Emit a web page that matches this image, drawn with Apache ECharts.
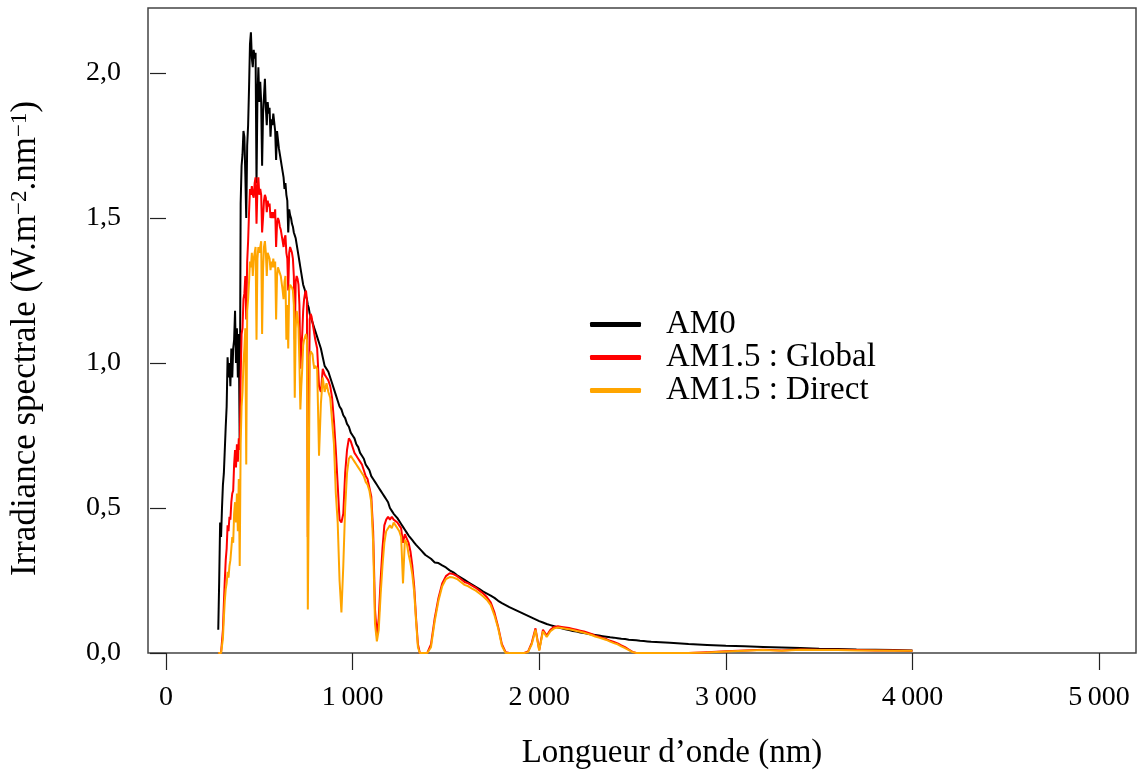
<!DOCTYPE html>
<html><head><meta charset="utf-8">
<script src="https://cdn.jsdelivr.net/npm/echarts@6/dist/echarts.min.js"></script>
<style>html,body{margin:0;padding:0;background:#fff}#c{width:1139px;height:776px}</style>
</head><body><div id="c"></div><script>
// Wavelength grid (nm)
const wavelengths = [
  280,285,290,295,300,305,310,315,320,325,
  330,335,340,345,350,355,360,365,370,375,
  380,385,390,395,400,405,410,415,420,425,
  430,435,440,445,450,455,460,465,470,475,
  480,485,490,495,500,505,510,515,520,525,
  530,535,540,545,550,555,560,565,570,575,
  580,585,590,595,600,605,610,615,620,625,
  630,635,640,645,650,655,660,665,670,675,
  680,685,690,695,700,705,710,715,720,725,
  730,735,740,745,750,755,760,765,770,775,
  780,785,790,795,800,
  810,820,830,840,850,860,870,880,890,900,
  910,920,930,940,950,960,970,980,990,1000,
  1010,1020,1030,1040,1050,1060,1070,1080,1090,1100,
  1110,1120,1130,1140,1150,1160,1170,1180,1190,1200,
  1210,1220,1230,1240,1250,1260,1270,1280,1290,1300,
  1310,1320,1330,1340,1350,1360,1370,1380,1390,1400,
  1420,1440,1460,1480,1500,1520,1540,1560,1580,1600,
  1620,1640,1660,1680,1700,1720,1740,1760,1780,1800,
  1820,1840,1860,1880,1900,1920,1940,1960,1980,2000,
  2020,2040,2060,2080,2100,2120,2140,2160,2180,2200,
  2220,2240,2260,2280,2300,2320,2340,2360,2380,2400,
  2420,2440,2460,2480,2500,2520,2540,2560,2580,2600,
  2700,2800,2900,3000,3100,3200,3300,3400,3500,3600,3700,3800,3900,4000
];
// AM0 spectral irradiance (W.m-2.nm-1)
const am0 = [
  0.08,0.25,0.45,0.40,0.50,0.58,0.62,0.70,0.78,0.85,
  1.02,0.95,1.00,0.92,1.05,0.95,1.05,1.08,1.18,1.00,
  1.12,0.95,1.10,0.72,1.55,1.68,1.72,1.80,1.78,1.65,
  1.50,1.75,1.82,1.95,2.10,2.14,2.05,2.02,2.08,2.05,
  2.07,1.62,1.92,2.02,1.90,1.97,1.90,1.68,1.86,1.92,
  1.98,1.88,1.82,1.90,1.86,1.88,1.78,1.84,1.82,1.86,
  1.83,1.80,1.70,1.80,1.77,1.74,1.72,1.70,1.68,1.66,
  1.64,1.60,1.62,1.58,1.56,1.45,1.53,1.51,1.50,1.48,
  1.47,1.45,1.44,1.43,1.41,1.39,1.37,1.35,1.33,1.31,
  1.29,1.27,1.26,1.25,1.23,1.22,1.20,1.19,1.17,1.16,
  1.15,1.14,1.13,1.12,1.11,
  1.09,1.07,1.05,1.02,0.99,0.99,0.97,0.95,0.93,0.91,
  0.89,0.87,0.85,0.84,0.82,0.81,0.79,0.78,0.76,0.75,
  0.74,0.72,0.71,0.69,0.68,0.67,0.65,0.64,0.63,0.61,
  0.60,0.59,0.58,0.57,0.56,0.55,0.54,0.53,0.52,0.50,
  0.49,0.48,0.475,0.465,0.455,0.445,0.435,0.425,0.415,0.405,
  0.397,0.389,0.381,0.373,0.366,0.359,0.352,0.345,0.338,0.332,
  0.325,0.312,0.31,0.302,0.295,0.285,0.278,0.268,0.26,0.252,
  0.244,0.236,0.228,0.22,0.212,0.205,0.198,0.19,0.18,0.172,
  0.165,0.158,0.152,0.146,0.14,0.134,0.128,0.122,0.116,0.11,
  0.105,0.10,0.096,0.092,0.088,0.085,0.082,0.079,0.076,0.074,
  0.071,0.069,0.066,0.064,0.062,0.060,0.058,0.056,0.054,0.053,
  0.051,0.049,0.048,0.046,0.045,0.044,0.042,0.041,0.040,0.039,
  0.035,0.031,0.028,0.025,0.023,0.021,0.019,0.017,0.015,0.014,0.012,0.011,0.010,0.009
];
// AM1.5 Global
const am15Global = [
  0,0,0,0,0.005,0.08,0.17,0.25,0.32,0.36,
  0.44,0.42,0.47,0.46,0.52,0.55,0.56,0.65,0.70,0.64,
  0.72,0.66,0.74,0.70,0.95,1.10,1.12,1.22,1.24,1.30,
  1.15,1.35,1.42,1.52,1.60,1.58,1.61,1.58,1.57,1.62,
  1.64,1.48,1.60,1.64,1.58,1.60,1.58,1.45,1.50,1.56,
  1.58,1.57,1.52,1.56,1.54,1.55,1.50,1.52,1.50,1.52,
  1.50,1.53,1.40,1.48,1.50,1.49,1.47,1.46,1.46,1.42,
  1.40,1.43,1.44,1.38,1.36,1.25,1.38,1.40,1.39,1.38,
  1.36,1.30,1.08,1.28,1.30,1.29,1.27,1.20,0.98,1.05,
  1.10,1.18,1.22,1.24,1.25,1.22,0.40,0.75,1.15,1.17,
  1.16,1.14,1.12,1.10,1.08,
  1.05,0.92,0.90,0.98,0.96,0.95,0.94,0.92,0.88,0.80,
  0.70,0.58,0.46,0.45,0.48,0.62,0.70,0.74,0.73,0.71,
  0.69,0.68,0.67,0.66,0.65,0.63,0.61,0.60,0.57,0.54,
  0.42,0.15,0.06,0.12,0.25,0.36,0.44,0.46,0.47,0.46,
  0.47,0.46,0.46,0.45,0.44,0.43,0.38,0.41,0.41,0.38,
  0.35,0.30,0.23,0.12,0.03,0,0,0,0,0,
  0.03,0.12,0.19,0.24,0.265,0.275,0.272,0.265,0.255,0.245,
  0.24,0.232,0.225,0.215,0.205,0.192,0.175,0.14,0.09,0.03,
  0.003,0,0,0,0,0,0.005,0.035,0.085,0.01,
  0.08,0.06,0.08,0.09,0.092,0.09,0.088,0.086,0.083,0.08,
  0.077,0.074,0.07,0.066,0.06,0.056,0.052,0.048,0.042,0.038,
  0.033,0.026,0.02,0.012,0.004,0,0,0,0,0,
  0,0,0.003,0.006,0.009,0.011,0.009,0.012,0.011,0.011,0.010,0.009,0.009,0.008
];
// AM1.5 Direct
const am15Direct = [
  0,0,0,0,0.003,0.05,0.12,0.18,0.22,0.24,
  0.28,0.26,0.30,0.32,0.36,0.40,0.38,0.48,0.52,0.45,
  0.55,0.42,0.60,0.30,0.72,0.85,0.90,1.00,1.05,1.12,
  0.65,1.18,1.22,1.28,1.35,1.33,1.38,1.30,1.36,1.38,
  1.40,1.08,1.36,1.40,1.38,1.40,1.42,1.10,1.32,1.40,
  1.42,1.38,1.30,1.38,1.37,1.36,1.32,1.35,1.33,1.36,
  1.33,1.35,1.15,1.30,1.33,1.32,1.31,1.30,1.30,1.25,
  1.22,1.28,1.30,1.08,1.20,1.05,1.25,1.27,1.27,1.26,
  1.25,1.20,0.88,1.12,1.18,1.16,1.12,1.00,0.84,0.92,
  0.98,1.06,1.08,1.08,1.10,1.08,0.15,0.55,1.02,1.04,
  1.04,1.03,1.00,0.98,0.99,
  0.98,0.68,0.86,0.95,0.90,0.93,0.90,0.88,0.80,0.72,
  0.55,0.45,0.25,0.14,0.30,0.50,0.62,0.67,0.68,0.67,
  0.66,0.65,0.64,0.63,0.62,0.61,0.59,0.58,0.56,0.52,
  0.38,0.10,0.04,0.08,0.20,0.30,0.38,0.42,0.43,0.44,
  0.43,0.45,0.44,0.43,0.42,0.40,0.24,0.39,0.38,0.34,
  0.31,0.27,0.21,0.11,0.02,0,0,0,0,0,
  0.02,0.11,0.18,0.23,0.255,0.262,0.26,0.255,0.245,0.235,
  0.23,0.222,0.215,0.205,0.195,0.183,0.165,0.13,0.085,0.025,
  0,0,0,0,0,0,0.003,0.03,0.08,0.008,
  0.075,0.055,0.075,0.085,0.088,0.086,0.084,0.082,0.079,0.076,
  0.073,0.07,0.066,0.062,0.057,0.053,0.049,0.045,0.039,0.034,
  0.03,0.023,0.017,0.01,0.003,0,0,0,0,0,
  0,0,0.002,0.005,0.008,0.01,0.008,0.011,0.01,0.01,0.009,0.009,0.008,0.008
];
const seriesNames = ['AM0', 'AM1.5 : Global', 'AM1.5 : Direct'];
const seriesColors = ['#000000', '#ff0000', '#ffa500'];
const xTicks = [0, 1000, 2000, 3000, 4000, 5000];
const yTicks = [0, 0.5, 1.0, 1.5, 2.0];

[am0, am15Global, am15Direct].forEach((a, k) => {
  if (a.length !== wavelengths.length) throw new Error('length mismatch ' + k + ': ' + a.length + ' vs ' + wavelengths.length);
});

const FONT = "'Liberation Serif', 'DejaVu Serif', serif";
const chart = echarts.init(document.getElementById('c'), null, {renderer: 'canvas'});
const pairs = arr => wavelengths.map((w, i) => [w, arr[i]]);

chart.setOption({
  animation: false,
  backgroundColor: '#ffffff',
  grid: {left: 148, right: 3, top: 8, bottom: 123, show: true, borderColor: '#444', borderWidth: 1.5, backgroundColor: 'transparent', containLabel: false, outerBoundsMode: 'none'},
  legend: {
    data: seriesNames, orient: 'vertical', left: 590, top: 308, padding: 0, itemGap: 0,
    itemWidth: 51, itemHeight: 5, icon: 'roundRect',
    textStyle: {fontFamily: FONT, fontSize: 33, color: '#000', lineHeight: 33, padding: [0, 0, 0, 20]}
  },
  xAxis: {
    type: 'value', min: -96.5, max: 5198,
    axisLine: {show: false},
    splitLine: {show: false},
    axisTick: {show: true, inside: false, length: 17, customValues: xTicks, lineStyle: {color: '#222', width: 1.2}},
    axisLabel: {customValues: xTicks, margin: 31, color: '#000', fontFamily: FONT, fontSize: 28,
      formatter: v => String(v).replace(/\B(?=(\d{3})+(?!\d))/g, '\u2009')},
    name: 'Longueur d\u2019onde (nm)', nameLocation: 'middle', nameGap: 84,
    nameTextStyle: {fontFamily: FONT, fontSize: 33, color: '#000', padding: [0, 0, 0, 60]}
  },
  yAxis: {
    type: 'value', min: 0, max: 2.2241,
    axisLine: {show: false},
    splitLine: {show: false},
    axisTick: {show: true, inside: false, length: 16, customValues: yTicks, lineStyle: {color: '#222', width: 1.2}},
    axisLabel: {customValues: yTicks, margin: 27, color: '#000', fontFamily: FONT, fontSize: 28,
      formatter: v => v.toFixed(1).replace('.', ',')},
    name: '{a|Irradiance spectrale (W.m}{s|\u22122}{a|.nm}{s|\u22121}{a|)}', nameLocation: 'middle', nameGap: 105, nameRotate: 90,
    nameTextStyle: {fontFamily: FONT, fontSize: 35, color: '#000', padding: [0, 16, 0, 0],
      rich: {
        a: {fontFamily: FONT, fontSize: 35, color: '#000', lineHeight: 35, verticalAlign: 'bottom'},
        s: {fontFamily: FONT, fontSize: 23, color: '#000', lineHeight: 23, verticalAlign: 'top'}
      }}
  },
  series: [am0, am15Global, am15Direct].map((arr, k) => ({
    name: seriesNames[k], type: 'line', data: pairs(arr), showSymbol: false, symbol: 'none',
    lineStyle: {color: seriesColors[k], width: 2}, itemStyle: {color: seriesColors[k]},
    z: 2 + k, silent: true
  }))
});
</script></body></html>
